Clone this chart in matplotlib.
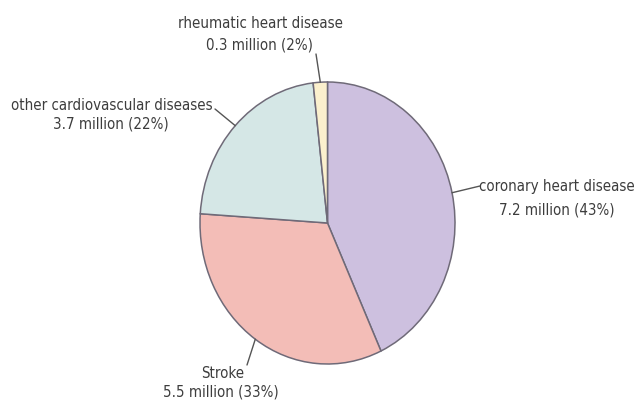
import numpy as np
import matplotlib
matplotlib.use("Agg")
import matplotlib.pyplot as plt
from matplotlib import font_manager as fm

causes = ["coronary heart disease", "Stroke",
          "other cardiovascular diseases", "rheumatic heart disease"]
deaths_million = [7.2, 5.5, 3.7, 0.3]
shares = [43, 33, 22, 2]
colors = ["#cdc0df", "#f3bdb7", "#d5e7e6", "#fbf0cd"]

W, H = 638, 402
CX, CY, RX, RY = 327.5, 224.0, 127.5, 141.0

# prefer a narrow sans face for the labels
narrow = [f for f in fm.fontManager.ttflist
          if ("Narrow" in f.name or "Condensed" in f.name
              or f.stretch in ("condensed", "semi-condensed", 500))
          and f.style == "normal" and f.weight in (400, "normal", "regular")]
if narrow:
    label_font = fm.FontProperties(fname=narrow[0].fname, size=10.8)
else:
    label_font = fm.FontProperties(family="DejaVu Sans", size=10)

fig = plt.figure(figsize=(W / 100, H / 100), dpi=100)
ax = fig.add_axes([0, 0, 1, 1])
wedges, _ = ax.pie(deaths_million, colors=colors, startangle=90,
                   counterclock=False,
                   wedgeprops=dict(edgecolor="#6f6a78", linewidth=1.1))
# stretch the pie into an upright ellipse
ax.set_aspect("auto")
ax.set_xlim(-CX / RX, (W - CX) / RX)
ax.set_ylim(-(H - CY) / RY, CY / RY)
ax.axis("off")

# label text centres and leader start points, in pixels from top-left
label_pos = [((557, 187), (557, 210), (480, 187)),
             ((223, 374), (221, 392), (247, 366)),
             ((112, 105), (111, 124), (215, 110)),
             ((261, 23), (260, 45), (316, 55))]

txt = "#3d3d3d"
for w, name, val, pct, (p1, p2, lead) in zip(wedges, causes, deaths_million,
                                              shares, label_pos):
    fig.text(p1[0] / W, 1 - p1[1] / H, name, ha="center", va="center",
             fontproperties=label_font, color=txt)
    fig.text(p2[0] / W, 1 - p2[1] / H, f"{val} million ({pct}%)",
             ha="center", va="center", fontproperties=label_font, color=txt)
    mid = np.deg2rad((w.theta1 + w.theta2) / 2)
    ax.annotate("", xy=(np.cos(mid), np.sin(mid)), xycoords="data",
                xytext=(lead[0] / W, 1 - lead[1] / H),
                textcoords="figure fraction",
                arrowprops=dict(arrowstyle="-", color="#555555", lw=1.0,
                                shrinkA=0, shrinkB=0))

fig.savefig("out.png", dpi=100, facecolor="white")
